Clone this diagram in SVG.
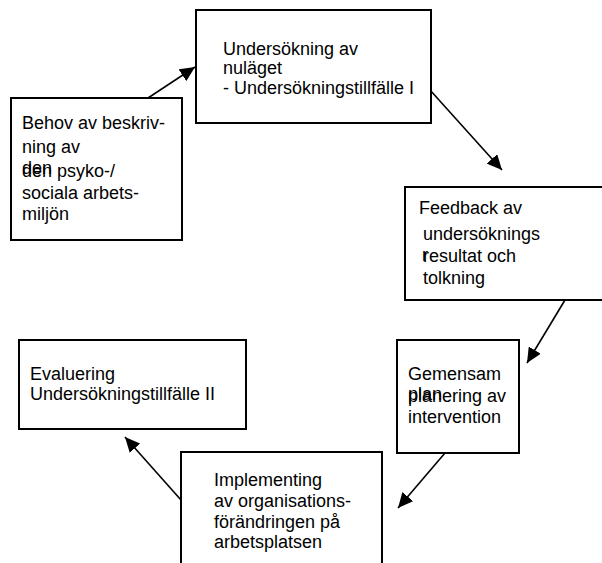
<svg xmlns="http://www.w3.org/2000/svg" width="602" height="563" viewBox="0 0 602 563">
<style>
.box{fill:#fff;stroke:#000;stroke-width:2}
.t{font-family:"Liberation Sans",Arial,sans-serif;font-size:18px;fill:#000}
.c{stroke:#000;stroke-width:1.6;fill:none}
</style>
<defs>
<marker id="ah" markerUnits="userSpaceOnUse" markerWidth="16" markerHeight="14" refX="15" refY="7" orient="auto">
<path d="M0,0 L15,7 L0,14 Z" fill="#000"/>
</marker>
</defs>
<rect width="602" height="563" fill="#fff"/>
<g id="connectors">
<line class="c" x1="148" y1="98" x2="195" y2="67" marker-end="url(#ah)"/>
<line class="c" x1="430" y1="90" x2="502" y2="170" marker-end="url(#ah)"/>
<line class="c" x1="565" y1="300" x2="527" y2="363" marker-end="url(#ah)"/>
<line class="c" x1="445" y1="453" x2="398" y2="508" marker-end="url(#ah)"/>
<line class="c" x1="181" y1="500" x2="125" y2="437" marker-end="url(#ah)"/>
</g>
<g id="n1">
<rect class="box" x="11" y="98" width="171" height="142"/>
<text class="t" x="22" y="129">Behov av beskriv-</text>
<text class="t" x="22" y="153">ning av</text>
<text class="t" x="22" y="174">den</text>
<text class="t" x="22" y="177">den psyko-/</text>
<text class="t" x="22" y="199">sociala arbets-</text>
<text class="t" x="22" y="220">miljön</text>
</g>
<g id="n2">
<rect class="box" x="196" y="10" width="235" height="113"/>
<text class="t" x="223" y="55">Undersökning av</text>
<text class="t" x="223" y="74">nuläget</text>
<text class="t" x="223" y="94">- Undersökningstillfälle I</text>
</g>
<g id="n3">
<rect class="box" x="405" y="187" width="210" height="113"/>
<text class="t" x="419" y="214">Feedback av</text>
<text class="t" x="423" y="240">undersöknings</text>
<text class="t" x="422" y="261">r</text>
<text class="t" x="423" y="262">resultat och</text>
<text class="t" x="423" y="284">tolkning</text>
</g>
<g id="n4">
<rect class="box" x="397" y="340" width="122" height="113"/>
<text class="t" x="408" y="380">Gemensam</text>
<text class="t" x="408" y="400">plan</text>
<text class="t" x="408" y="402">planering av</text>
<text class="t" x="408" y="423">intervention</text>
</g>
<g id="n5">
<rect class="box" x="181" y="452" width="201" height="130"/>
<text class="t" x="214" y="486">Implementing</text>
<text class="t" x="214" y="507">av organisations-</text>
<text class="t" x="214" y="528">förändringen på</text>
<text class="t" x="214" y="548">arbetsplatsen</text>
</g>
<g id="n6">
<rect class="box" x="19" y="340" width="227" height="89"/>
<text class="t" x="30" y="380">Evaluering</text>
<text class="t" x="30" y="400">Undersökningstillfälle II</text>
</g>
</svg>
